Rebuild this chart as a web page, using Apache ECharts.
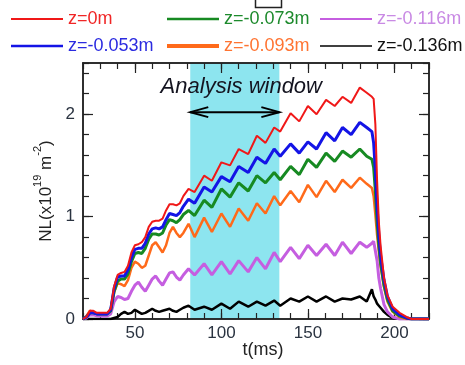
<!DOCTYPE html>
<html>
<head>
<meta charset="utf-8">
<script src="https://cdn.jsdelivr.net/npm/echarts@6/dist/echarts.min.js"></script>
<style>
  html, body { margin: 0; padding: 0; background: #fff; }
  #chart { width: 465px; height: 365px; }
</style>
</head>
<body>
<div id="chart"></div>
<script>
// time base (ms), shared by every trace
const timeMs = [
  20, 22, 24, 26, 28, 31, 34, 36, 38, 40,
  42, 44, 46, 48, 50, 52, 54, 56, 58, 60,
  62, 64, 66, 68, 70, 72, 74, 76, 78, 81,
  84.5, 90, 94.5, 100, 105, 110, 115.5, 120.5, 125.5, 130.5,
  134, 140, 145, 150, 155, 160.5, 165.5, 170, 175, 180,
  184, 187, 188, 189, 190, 191, 192, 194, 196, 199,
  203, 207, 210, 220
];

// line density NL (x10^19 m^-2) for each z position
const nl_z0 = [
  0.00, 0.02, 0.08, 0.08, 0.06, 0.06, 0.06, 0.10, 0.32, 0.43,
  0.45, 0.46, 0.52, 0.65, 0.72, 0.73, 0.75, 0.80, 0.90, 0.95,
  0.96, 0.96, 0.98, 1.06, 1.12, 1.12, 1.11, 1.13, 1.20, 1.27,
  1.24, 1.40, 1.35, 1.53, 1.50, 1.66, 1.61, 1.79, 1.72, 1.87,
  1.83, 2.01, 1.93, 2.08, 2.00, 2.14, 2.08, 2.17, 2.11, 2.26,
  2.21, 2.17, 2.15, 1.90, 1.35, 0.95, 0.72, 0.40, 0.23, 0.12,
  0.06, 0.02, 0.00, 0.00
];
const nl_z053 = [
  0.00, 0.02, 0.06, 0.06, 0.05, 0.05, 0.05, 0.09, 0.30, 0.41,
  0.42, 0.42, 0.48, 0.60, 0.68, 0.69, 0.69, 0.74, 0.83, 0.88,
  0.89, 0.88, 0.90, 0.97, 1.03, 1.02, 1.01, 1.04, 1.10, 1.17,
  1.13, 1.29, 1.24, 1.39, 1.34, 1.49, 1.43, 1.58, 1.52, 1.66,
  1.59, 1.71, 1.62, 1.73, 1.66, 1.82, 1.74, 1.87, 1.80, 1.92,
  1.87, 1.83, 1.72, 1.45, 1.10, 0.82, 0.62, 0.38, 0.22, 0.10,
  0.04, 0.01, 0.00, 0.00
];
const nl_z073 = [
  0.00, 0.02, 0.06, 0.06, 0.05, 0.05, 0.05, 0.08, 0.27, 0.37,
  0.39, 0.39, 0.44, 0.56, 0.64, 0.65, 0.64, 0.69, 0.78, 0.83,
  0.83, 0.82, 0.84, 0.92, 0.97, 0.96, 0.94, 0.97, 1.02, 1.06,
  1.01, 1.16, 1.09, 1.27, 1.19, 1.33, 1.25, 1.40, 1.33, 1.43,
  1.36, 1.49, 1.41, 1.56, 1.48, 1.62, 1.54, 1.64, 1.58, 1.66,
  1.59, 1.56, 1.48, 1.25, 0.95, 0.72, 0.55, 0.33, 0.19, 0.08,
  0.03, 0.01, 0.00, 0.00
];
const nl_z093 = [
  0.00, 0.03, 0.08, 0.07, 0.05, 0.05, 0.05, 0.08, 0.26, 0.35,
  0.34, 0.32, 0.38, 0.50, 0.56, 0.54, 0.50, 0.52, 0.62, 0.72,
  0.75, 0.70, 0.65, 0.72, 0.84, 0.90, 0.84, 0.80, 0.84, 0.93,
  0.80, 0.99, 0.85, 1.03, 0.90, 1.08, 0.96, 1.13, 1.03, 1.20,
  1.11, 1.25, 1.14, 1.31, 1.19, 1.35, 1.24, 1.36, 1.28, 1.38,
  1.32, 1.28, 1.20, 1.02, 0.82, 0.66, 0.52, 0.31, 0.17, 0.07,
  0.02, 0.00, 0.00, 0.00
];
const nl_z116 = [
  0.00, 0.01, 0.04, 0.04, 0.03, 0.03, 0.03, 0.05, 0.17, 0.22,
  0.21, 0.19, 0.20, 0.27, 0.33, 0.36, 0.31, 0.27, 0.33, 0.39,
  0.42, 0.37, 0.33, 0.39, 0.45, 0.46, 0.41, 0.38, 0.43, 0.49,
  0.43, 0.54, 0.43, 0.56, 0.44, 0.57, 0.46, 0.60, 0.49, 0.65,
  0.56, 0.70, 0.59, 0.72, 0.62, 0.73, 0.62, 0.75, 0.64, 0.75,
  0.70, 0.74, 0.76, 0.77, 0.57, 0.40, 0.30, 0.14, 0.07, 0.02,
  0.00, 0.00, 0.00, 0.00
];
const nl_z136 = [
  0.00, 0.00, 0.00, 0.00, 0.00, 0.00, 0.00, 0.00, 0.01, 0.02,
  0.05, 0.07, 0.05, 0.06, 0.09, 0.07, 0.05, 0.06, 0.08, 0.10,
  0.08, 0.07, 0.08, 0.09, 0.10, 0.08, 0.07, 0.09, 0.11, 0.13,
  0.09, 0.12, 0.09, 0.15, 0.10, 0.17, 0.12, 0.17, 0.13, 0.18,
  0.13, 0.20, 0.17, 0.22, 0.17, 0.22, 0.17, 0.20, 0.19, 0.22,
  0.17, 0.29, 0.22, 0.19, 0.15, 0.13, 0.11, 0.07, 0.04, 0.01,
  0.00, 0.00, 0.00, 0.00
];

const traceNames = ['z=0m', 'z=-0.053m', 'z=-0.073m', 'z=-0.093m', 'z=-0.116m', 'z=-0.136m'];
const traceValues = [nl_z0, nl_z053, nl_z073, nl_z093, nl_z116, nl_z136];
const traceColors = ['#f01818', '#1414e6', '#178a22', '#ff6a1a', '#c55ee0', '#000000'];
const traceLabelColors = ['#f02626', '#2b2be0', '#1d8a2c', '#ff7432', '#c98ae4', '#111111'];
const traceWidths = [2, 3, 3, 2.5, 3, 2.5];
const legendLineWidths = [2, 2.5, 2.5, 4, 2, 1.5];

// analysis window (ms) and annotation anchors
const windowRange = [82, 133.5];
const arrowLevel = 2.02;
const windowLabelAt = [111.5, 2.27];

const xTicksMajor = [50, 100, 150, 200];
const yTicksMajor = [0, 1, 2];

const font = 'Liberation Sans, Arial, sans-serif';
const frame = '#222';

const chart = echarts.init(document.getElementById('chart'), null, { renderer: 'canvas' });

const gridBox = { left: 83, right: 36, top: 63, bottom: 46, containLabel: false, outerBoundsMode: 'none' };

function xAx(opts) {
  return Object.assign({
    type: 'value', min: 20, max: 220, interval: 10,
    splitLine: { show: false },
    axisLine: { show: true, onZero: false, lineStyle: { color: frame, width: 1.5 } },
    axisTick: { show: true, inside: true, length: 6, lineStyle: { color: frame, width: 1.2 } },
    axisLabel: { show: false }
  }, opts);
}
function yAx(opts) {
  return Object.assign({
    type: 'value', min: 0, max: 2.5, interval: 0.2,
    splitLine: { show: false },
    axisLine: { show: true, onZero: false, lineStyle: { color: frame, width: 1.5 } },
    axisTick: { show: true, inside: true, length: 6, lineStyle: { color: frame, width: 1.2 } },
    axisLabel: { show: false }
  }, opts);
}
const majorTick = (vals) => ({ show: true, inside: true, length: 10, customValues: vals, lineStyle: { color: frame, width: 1.2 } });

const legendCells = [
  { left: 11, top: 10 }, { left: 11, top: 37 },
  { left: 167, top: 10 }, { left: 167, top: 37 },
  { left: 320, top: 10 }, { left: 320, top: 37 }
];

const option = {
  animation: false,
  backgroundColor: '#fff',
  textStyle: { fontFamily: font },
  grid: [
    Object.assign({}, gridBox),
    Object.assign({}, gridBox)
  ],
  legend: traceNames.map((name, i) => ({
    left: legendCells[i].left,
    top: legendCells[i].top,
    padding: 0,
    icon: 'rect',
    itemWidth: 52,
    itemHeight: legendLineWidths[i],
    selectedMode: false,
    textStyle: { fontSize: 18, fontFamily: font, color: traceLabelColors[i] },
    data: [{ name, textStyle: { color: traceLabelColors[i] } }]
  })),
  xAxis: [
    xAx({
      gridIndex: 0, position: 'bottom',
      name: 't(ms)', nameLocation: 'middle', nameGap: 22, nameMoveOverlap: false,
      nameTextStyle: { fontSize: 18, color: '#222', fontFamily: font, padding: [0, 0, 0, 14] },
      axisLabel: { show: true, customValues: xTicksMajor, fontSize: 17, color: '#2a3340', margin: 6, fontFamily: font }
    }),
    xAx({ gridIndex: 0, position: 'top' }),
    xAx({ gridIndex: 1, position: 'bottom', axisTick: majorTick(xTicksMajor) }),
    xAx({ gridIndex: 1, position: 'top', axisTick: majorTick(xTicksMajor) })
  ],
  yAxis: [
    yAx({
      gridIndex: 0, position: 'left',
      name: '{a|NL(x10}{s|19}{a| m}{s|-2}{a|)}', nameLocation: 'middle', nameRotate: 90, nameGap: 5,
      nameTextStyle: {
        color: '#222',
        rich: {
          a: { fontSize: 17, fontFamily: font, color: '#222', lineHeight: 22, verticalAlign: 'bottom' },
          s: { fontSize: 11, fontFamily: font, color: '#222', lineHeight: 22, verticalAlign: 'top' }
        }
      },
      axisLabel: { show: true, customValues: yTicksMajor, fontSize: 17, color: '#2a3340', margin: 8, fontFamily: font }
    }),
    yAx({ gridIndex: 0, position: 'right' }),
    yAx({ gridIndex: 1, position: 'left', axisTick: majorTick(yTicksMajor) }),
    yAx({ gridIndex: 1, position: 'right', axisTick: majorTick(yTicksMajor) })
  ],
  graphic: [
    {
      type: 'rect', left: 253, top: -8,
      shape: { width: 26, height: 13 },
      style: { fill: 'none', stroke: frame, lineWidth: 1.5 }
    }
  ],
  series: [
    {
      type: 'custom', name: 'window', xAxisIndex: 0, yAxisIndex: 0, z: -1, silent: true,
      data: [windowRange],
      encode: { x: [0, 1] },
      renderItem: (params, api) => {
        const a = api.coord([api.value(0), 0]);
        const b = api.coord([api.value(1), 0]);
        const cs = params.coordSys;
        return {
          type: 'rect',
          shape: { x: a[0], y: cs.y, width: b[0] - a[0], height: cs.height },
          style: { fill: '#8de5ef' }
        };
      }
    },
    {
      type: 'custom', name: 'windowArrow', xAxisIndex: 0, yAxisIndex: 0, z: 5, silent: true,
      data: [[windowRange[0], windowRange[1], arrowLevel, windowLabelAt[0], windowLabelAt[1]]],
      encode: { x: [0, 1, 3], y: [2, 4] },
      renderItem: (params, api) => {
        const p0 = api.coord([api.value(0), api.value(2)]);
        const p1 = api.coord([api.value(1), api.value(2)]);
        const t = api.coord([api.value(3), api.value(4)]);
        const stroke = { stroke: '#000', lineWidth: 2, fill: null };
        return {
          type: 'group',
          children: [
            { type: 'line', shape: { x1: p0[0], y1: p0[1], x2: p1[0], y2: p1[1] }, style: stroke },
            { type: 'polyline', shape: { points: [[p0[0] + 18, p0[1] - 5], p0, [p0[0] + 18, p0[1] + 5]] }, style: stroke },
            { type: 'polyline', shape: { points: [[p1[0] - 18, p1[1] - 5], p1, [p1[0] - 18, p1[1] + 5]] }, style: stroke },
            {
              type: 'text',
              style: {
                x: t[0], y: t[1], text: 'Analysis window',
                font: 'italic 22px Liberation Sans, Arial, sans-serif',
                fill: '#141420', align: 'center', verticalAlign: 'middle'
              }
            }
          ]
        };
      }
    }
  ].concat(traceNames.map((name, i) => ({
    type: 'line',
    name,
    xAxisIndex: 0,
    yAxisIndex: 0,
    symbol: 'none',
    smooth: false,
    z: 3 + (traceNames.length - i) * 0.01,
    data: timeMs.map((t, k) => [t, traceValues[i][k]]),
    lineStyle: { color: traceColors[i], width: traceWidths[i] },
    itemStyle: { color: traceColors[i] }
  })))
};

chart.setOption(option);
</script>
</body>
</html>
